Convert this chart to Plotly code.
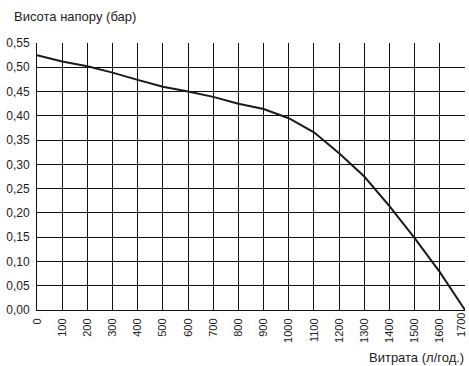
import plotly.graph_objects as go

flow = [0, 100, 200, 300, 400, 500, 600, 700, 800, 900, 1000, 1100, 1200, 1300, 1400, 1500, 1600, 1700]
head = [0.525, 0.512, 0.502, 0.489, 0.474, 0.460, 0.450, 0.439, 0.425, 0.414, 0.395, 0.366, 0.323, 0.275, 0.214, 0.148, 0.078, 0.0]
y_ticks = [i * 0.05 for i in range(12)]
y_labels = [f"{v:.2f}".replace(".", ",") for v in y_ticks]
x_ticks = list(range(0, 1800, 100))
x_labels = [str(v) for v in x_ticks]

FONT = "Liberation Sans, Arial, sans-serif"
W, H = 469, 366
L, R, T, B = 37, 4, 43, 56
XFS = 11

fig = go.Figure()
fig.add_trace(go.Scatter(x=flow, y=head, mode="lines",
                         line=dict(color="#1a1a1a", width=2), showlegend=False))

pw = W - L - R
ph = H - T - B

# last x label is placed as an annotation nudged inward so it is not clipped
x_text = x_labels[:-1] + [""]

fig.update_layout(
    width=W, height=H,
    margin=dict(l=L, r=R, t=T, b=B, autoexpand=False),
    paper_bgcolor="white", plot_bgcolor="white",
    font=dict(family=FONT, size=12, color="#222"),
    xaxis=dict(range=[0, 1700], tickvals=x_ticks, ticktext=x_text, tickangle=-90,
               showgrid=True, gridcolor="#111", gridwidth=1, zeroline=False,
               showline=True, linecolor="#111", linewidth=1, ticks="", ticklen=0,
               automargin=False, ticklabelstandoff=3, ticklabeloverflow="allow",
               tickfont=dict(size=XFS)),
    yaxis=dict(range=[0, 0.55], tickvals=y_ticks, ticktext=y_labels,
               showgrid=True, gridcolor="#111", gridwidth=1, zeroline=False,
               showline=True, linecolor="#111", linewidth=1, ticks="", ticklen=0,
               automargin=False, ticklabelstandoff=4, ticklabeloverflow="allow",
               tickfont=dict(size=12)),
    annotations=[
        dict(text="Висота напору (бар)", x=(12 - L) / pw, y=(H - B - 17) / ph,
             xref="paper", yref="paper", showarrow=False,
             xanchor="left", yanchor="middle",
             font=dict(family=FONT, size=13, color="#222")),
        dict(text="Витрата (л/год.)", x=(466 - L) / pw, y=(H - B - 357) / ph,
             xref="paper", yref="paper", showarrow=False,
             xanchor="right", yanchor="middle",
             font=dict(family=FONT, size=13, color="#222")),
        dict(text=x_labels[-1], x=x_ticks[-1], y=0, xref="x", yref="paper",
             showarrow=False, textangle=-90, xanchor="center", yanchor="top",
             xshift=-4, yshift=-2, borderpad=0,
             font=dict(family=FONT, size=XFS, color="#222")),
    ],
)

fig.write_html("out.html", config={"displayModeBar": False},
               post_script="document.body.style.margin='0';document.body.style.padding='0';")
